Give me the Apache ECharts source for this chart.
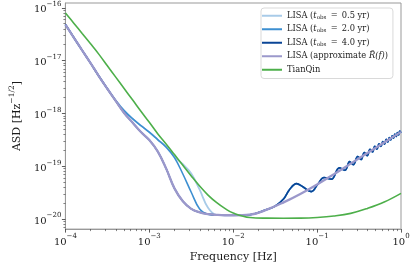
<!DOCTYPE html>
<html><head><meta charset="utf-8">
<script src="https://cdn.jsdelivr.net/npm/echarts@6/dist/echarts.min.js"></script>
<style>html,body{margin:0;padding:0;background:#fff}#c{width:415px;height:268px}</style>
</head><body><div id="c"></div>
<script>
// ---- data ----
const freqLow = [1e-4, 1.259e-4, 1.585e-4, 1.995e-4, 2.512e-4, 3.162e-4, 3.981e-4, 5.012e-4, 6.310e-4, 7.943e-4, 1e-3, 1.259e-3, 1.585e-3, 1.995e-3, 2.512e-3, 3.162e-3, 3.981e-3, 5.012e-3, 6.310e-3, 7.943e-3, 1e-2];
const freqRest = [1.585e-2, 2.512e-2, 3.981e-2, 6.310e-2, 0.1, 0.1585, 0.2512, 0.3981, 0.631, 1];
const asdApproxLow = [4.82e-17, 2.73e-17, 1.56e-17, 8.95e-18, 5.05e-18, 2.93e-18, 1.72e-18, 1.02e-18, 6.71e-19, 4.45e-19, 3.13e-19, 1.91e-19, 9.10e-20, 3.81e-20, 2.17e-20, 1.56e-20, 1.34e-20, 1.24e-20, 1.20e-20, 1.18e-20, 1.18e-20];
const asdApproxRest = [1.21e-20, 1.51e-20, 2.07e-20, 2.99e-20, 4.52e-20, 7.08e-20, 1.12e-19, 1.78e-19, 2.82e-19, 4.47e-19];
const asdTianQinLow = [7.96e-17, 5.11e-17, 3.25e-17, 2.08e-17, 1.31e-17, 7.96e-18, 4.86e-18, 2.96e-18, 1.81e-18, 1.10e-18, 6.78e-19, 4.13e-19, 2.64e-19, 1.66e-19, 1.04e-19, 6.55e-20, 4.21e-20, 2.84e-20, 2.06e-20, 1.59e-20, 1.30e-20];
const asdTianQinRest = [1.07e-20, 1.04e-20, 1.035e-20, 1.04e-20, 1.07e-20, 1.14e-20, 1.28e-20, 1.59e-20, 2.10e-20, 3.06e-20];
const asdLow05 = [4.82e-17, 2.73e-17, 1.56e-17, 8.95e-18, 5.05e-18, 2.93e-18, 1.76e-18, 1.13e-18, 7.96e-19, 5.87e-19, 4.41e-19, 3.20e-19, 2.31e-19, 1.51e-19, 1.09e-19, 7.28e-20, 3.60e-20, 1.64e-20, 1.20e-20, 1.18e-20, 1.18e-20];
const asdLow20 = [4.82e-17, 2.73e-17, 1.56e-17, 8.95e-18, 5.05e-18, 2.93e-18, 1.76e-18, 1.13e-18, 7.96e-19, 5.87e-19, 4.41e-19, 3.20e-19, 2.31e-19, 1.46e-19, 7.13e-20, 3.22e-20, 1.55e-20, 1.23e-20, 1.18e-20, 1.18e-20, 1.18e-20];
const asdLow40 = [4.82e-17, 2.73e-17, 1.56e-17, 8.95e-18, 5.05e-18, 2.93e-18, 1.72e-18, 1.02e-18, 6.71e-19, 4.45e-19, 3.13e-19, 1.91e-19, 9.10e-20, 3.81e-20, 2.17e-20, 1.56e-20, 1.34e-20, 1.24e-20, 1.20e-20, 1.18e-20, 1.18e-20];
const freqHigh = [1.585e-2, 2.512e-2, 3.162e-2, 3.98e-2, 4.68e-2, 5.69e-2, 6.76e-2, 8.51e-2, 0.102, 0.121, 0.148, 0.184, 0.215, 0.2443, 0.27, 0.305, 0.3335, 0.3664, 0.3954, 0.4276, 0.4571, 0.4875, 0.5164, 0.547, 0.5768, 0.608, 0.637, 0.667, 0.697, 0.726, 0.755, 0.785, 0.815, 0.845, 0.875, 0.906, 0.935, 0.966, 1.0];
const asdHigh = [1.21e-20, 1.51e-20, 1.76e-20, 2.40e-20, 3.59e-20, 4.68e-20, 4.08e-20, 3.31e-20, 4.57e-20, 6.11e-20, 5.69e-20, 9.31e-20, 8.38e-20, 1.22e-19, 1.07e-19, 1.53e-19, 1.34e-19, 1.82e-19, 1.59e-19, 2.09e-19, 1.86e-19, 2.39e-19, 2.10e-19, 2.65e-19, 2.38e-19, 2.94e-19, 2.62e-19, 3.23e-19, 2.87e-19, 3.48e-19, 3.15e-19, 3.76e-19, 3.40e-19, 4.05e-19, 3.65e-19, 4.34e-19, 3.90e-19, 4.62e-19, 4.27e-19];
const xTickExp = [-4, -3, -2, -1, 0];
const yTickExp = [-20, -19, -18, -17, -16];
const seriesNames = ['LISA (t_obs = 0.5 yr)', 'LISA (t_obs = 2.0 yr)', 'LISA (t_obs = 4.0 yr)', 'LISA (approximate R(f))', 'TianQin'];

// ---- layout / style ----
const FONT = 'DejaVu Serif';
const X_MIN = 1e-4, X_MAX = 1;
const Y_LOG_MIN = -20.19, Y_LOG_MAX = -15.91;
const colors = ['#a8cbe8', '#3d8fd1', '#0a4596', '#9b98cb', '#4daf4a'];
const widths = [1.8, 1.6, 1.6, 2.3, 1.6];

const zip = (xs, ys) => xs.map((x, i) => [x, ys[i]]);
const dataSets = [
  zip(freqLow.concat(freqHigh), asdLow05.concat(asdHigh)),
  zip(freqLow.concat(freqHigh), asdLow20.concat(asdHigh)),
  zip(freqLow.concat(freqHigh), asdLow40.concat(asdHigh)),
  zip(freqLow.concat(freqRest), asdApproxLow.concat(asdApproxRest)),
  zip(freqLow.concat(freqRest), asdTianQinLow.concat(asdTianQinRest))
];

function minorLogs(lo, hi) {
  const out = [];
  for (let d = Math.floor(lo) - 1; d <= Math.ceil(hi); d++) {
    for (let k = 2; k <= 9; k++) {
      const v = d + Math.log10(k);
      if (v > lo + 1e-9 && v < hi - 1e-9) out.push(v);
    }
  }
  return out;
}
const supFmt = v => { const e = Math.round(v); return '{b|10}{s|' + (e < 0 ? '\u2212' : '') + Math.abs(e) + '}'; };
const labelRich = {
  b: { fontFamily: FONT, fontSize: 10, color: '#1a1a1a', lineHeight: 14, verticalAlign: 'bottom' },
  s: { fontFamily: FONT, fontSize: 7, color: '#1a1a1a', lineHeight: 6, verticalAlign: 'top' }
};
const AXC = '#999999';

const LF = 8.3;
const legendRich = {
  n: { fontFamily: FONT, fontSize: LF, color: '#222', lineHeight: 9.5 },
  i: { fontFamily: FONT, fontSize: LF, color: '#222', fontStyle: 'italic', lineHeight: 9.5 },
  sub: { fontFamily: FONT, fontSize: 5.6, color: '#222', lineHeight: 9.5, verticalAlign: 'bottom', padding: [3, 0, 0, 0] }
};
const EQ = '\u2002=\u2002';
const legendText = {
  'LISA (t_obs = 0.5 yr)': '{n|LISA (}{i|t}{sub|obs}{n|' + EQ + '0.5 yr)}',
  'LISA (t_obs = 2.0 yr)': '{n|LISA (}{i|t}{sub|obs}{n|' + EQ + '2.0 yr)}',
  'LISA (t_obs = 4.0 yr)': '{n|LISA (}{i|t}{sub|obs}{n|' + EQ + '4.0 yr)}',
  'LISA (approximate R(f))': '{n|LISA (approximate }{i|R\u0304(f)}{n|)}',
  'TianQin': '{n|TianQin}'
};

const chart = echarts.init(document.getElementById('c'), null, { renderer: 'canvas' });
chart.setOption({
  animation: false,
  grid: { left: 55, right: 14, top: 3, bottom: 35, show: true, borderColor: AXC, borderWidth: 1, backgroundColor: 'transparent' },
  legend: {
    orient: 'vertical', left: 261, top: 8,
    padding: [3, 5, 4, 1], itemWidth: 20, itemHeight: 2, itemGap: 4,
    icon: 'rect',
    backgroundColor: '#fff', borderColor: '#d9d9d9', borderWidth: 1, borderRadius: 3,
    data: seriesNames,
    formatter: name => legendText[name],
    textStyle: { rich: legendRich, lineHeight: 9.5 }
  },
  xAxis: [
    { type: 'log', logBase: 10, min: X_MIN, max: X_MAX, axisLine: { show: false }, axisTick: { show: false }, axisLabel: { show: false }, splitLine: { show: false } },
    { type: 'value', position: 'bottom', min: -4, max: 0,
      axisLine: { show: true, onZero: false, lineStyle: { color: AXC, width: 1 } },
      axisTick: { show: true, customValues: xTickExp, length: 3.5, lineStyle: { color: '#333', width: 0.8 } },
      axisLabel: { show: true, customValues: xTickExp, formatter: supFmt, rich: labelRich, margin: 4 },
      splitLine: { show: false },
      name: 'Frequency [Hz]', nameLocation: 'middle', nameGap: 17,
      nameTextStyle: { fontFamily: FONT, fontSize: 11, color: '#1a1a1a' } },
    { type: 'value', position: 'bottom', min: -4, max: 0,
      axisLine: { show: false, onZero: false },
      axisTick: { show: true, customValues: minorLogs(-4, 0), length: 2, lineStyle: { color: '#333', width: 0.6 } },
      axisLabel: { show: false }, splitLine: { show: false } }
  ],
  yAxis: [
    { type: 'log', logBase: 10, min: Math.pow(10, Y_LOG_MIN), max: Math.pow(10, Y_LOG_MAX), axisLine: { show: false }, axisTick: { show: false }, axisLabel: { show: false }, splitLine: { show: false } },
    { type: 'value', position: 'left', min: Y_LOG_MIN, max: Y_LOG_MAX,
      axisLine: { show: true, onZero: false, lineStyle: { color: AXC, width: 1 } },
      axisTick: { show: true, customValues: yTickExp, length: 3.5, lineStyle: { color: '#333', width: 0.8 } },
      axisLabel: { show: true, customValues: yTickExp, formatter: supFmt, rich: labelRich, margin: 4 },
      splitLine: { show: false },
      name: '{n|ASD [Hz}{s|\u22121/2}{n|]}', nameLocation: 'middle', nameGap: 33, nameRotate: 90,
      nameTextStyle: { rich: {
        n: { fontFamily: FONT, fontSize: 11, color: '#1a1a1a', lineHeight: 15, verticalAlign: 'bottom' },
        s: { fontFamily: FONT, fontSize: 7.5, color: '#1a1a1a', lineHeight: 7, verticalAlign: 'top' } } } },
    { type: 'value', position: 'left', min: Y_LOG_MIN, max: Y_LOG_MAX,
      axisLine: { show: false, onZero: false },
      axisTick: { show: true, customValues: minorLogs(Y_LOG_MIN, Y_LOG_MAX), length: 2, lineStyle: { color: '#333', width: 0.6 } },
      axisLabel: { show: false }, splitLine: { show: false } }
  ],
  series: seriesNames.map((name, i) => ({
    name, type: 'line', xAxisIndex: 0, yAxisIndex: 0,
    data: dataSets[i], symbol: 'none', showSymbol: false, smooth: 0.4,
    lineStyle: { color: colors[i], width: widths[i] }, itemStyle: { color: colors[i] },
    emphasis: { disabled: true }
  }))
});
</script></body></html>
